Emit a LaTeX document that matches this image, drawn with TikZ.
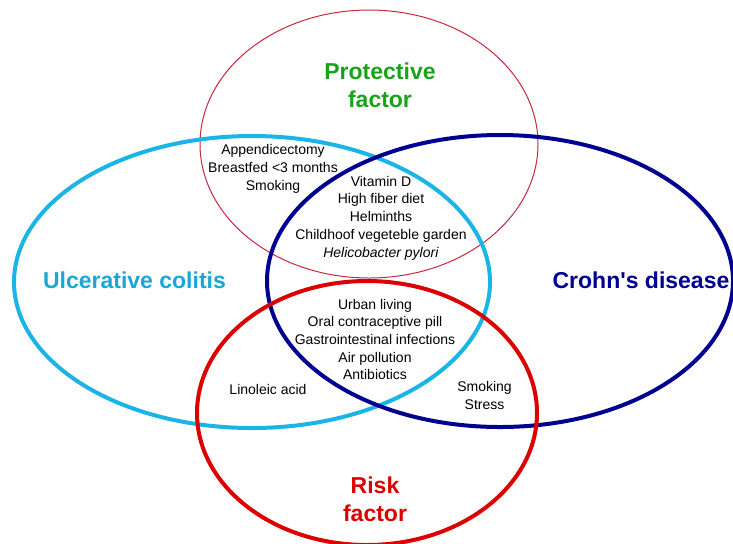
\documentclass[tikz,border=0pt]{standalone}
\usepackage{fontspec}
\setmainfont{Liberation Sans}
\definecolor{protred}{HTML}{C8283C}
\definecolor{protgreen}{HTML}{1AA31A}
\definecolor{ucblue}{HTML}{1AB4E6}
\definecolor{uctext}{HTML}{1AA6D6}
\definecolor{cdblue}{HTML}{000090}
\definecolor{riskred}{HTML}{DD0000}

\begin{document}
\begin{tikzpicture}[x=0.5pt, y=-0.5pt,
    factor/.style={font=\fontsize{7}{8.85}\selectfont, align=center, inner sep=0pt},
    title/.style={font=\fontsize{11.5}{14}\selectfont\bfseries, align=center, inner sep=0pt}]
      \useasboundingbox (0,0) rectangle (733,543);
      \clip (0,0) rectangle (733,543);

      \draw[protred, line width=0.5pt] (369,144) ellipse [x radius=84.5pt, y radius=67pt];
      \draw[ucblue, line width=2pt] (252,282) ellipse [x radius=119pt, y radius=73pt];
      \draw[cdblue, line width=2pt] (500,281) ellipse [x radius=116.5pt, y radius=73pt];
      \draw[riskred, line width=2pt] (367,413) ellipse [x radius=85pt, y radius=66pt];

      \node[title, protgreen] (protective) at (380,85) {Protective\\factor};
      \node[title, uctext] (uc) at (134.5,280) {Ulcerative colitis};
      \node[title, cdblue] (cd) at (641,280) {Crohn\textquotesingle s disease};
      \node[title, riskred] (risk) at (375,499.5) {Risk\\factor};

      \node[factor] (protuc) at (273,169) {Appendicectomy\\Breastfed <3 months\\Smoking};
      \node[factor] (protboth) at (381,218) {Vitamin D\\High fiber diet\\Helminths\\Childhoof vegeteble garden\\\textit{Helicobacter pylori}};
      \node[factor] (riskboth) at (375,339.5) {Urban living\\Oral contraceptive pill\\Gastrointestinal infections\\Air pollution\\Antibiotics};
      \node[factor] (riskuc) at (268,389) {Linoleic acid};
      \node[factor] (riskcd) at (484.5,395.5) {Smoking\\Stress};
  \end{tikzpicture}
\end{document}
